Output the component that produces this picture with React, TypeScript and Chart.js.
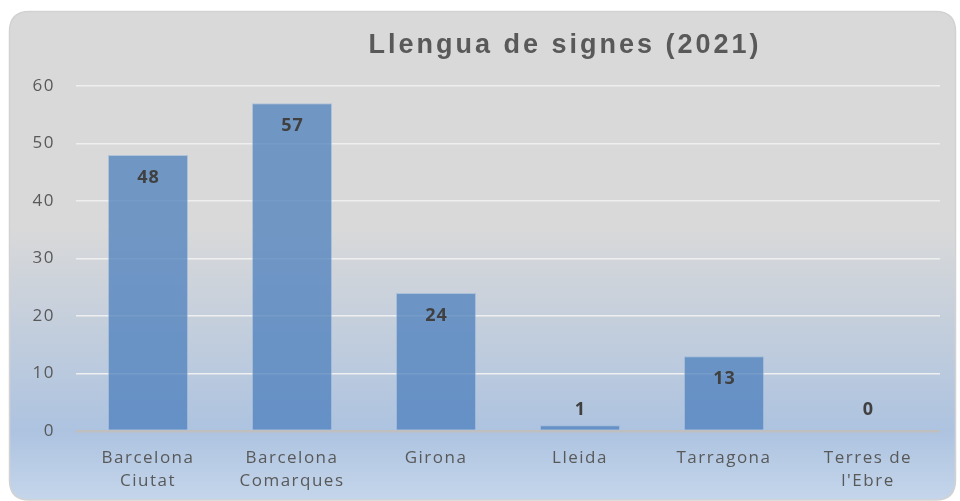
import React, { useEffect, useRef } from "react";
import { Chart, registerables } from "chart.js";

Chart.register(...registerables);

const TITLE = "Llengua de signes (2021)";
const categories: (string | string[])[] = [
  ["Barcelona", "Ciutat"],
  ["Barcelona", "Comarques"],
  "Girona",
  "Lleida",
  "Tarragona",
  ["Terres de", "l'Ebre"],
];
const values = [48, 57, 24, 1, 13, 0];
const yTicks = [0, 10, 20, 30, 40, 50, 60];

const W = 960;
const H = 501;

const backgroundPlugin = {
  id: "cardBg",
  beforeDraw(chart: any) {
    const ctx = chart.ctx as CanvasRenderingContext2D;
    ctx.save();
    ctx.fillStyle = "#ffffff";
    ctx.fillRect(0, 0, W, H);
    const x0 = 9.5, y0 = 11.5, x1 = 955.5, y1 = 500, r = 20;
    ctx.beginPath();
    ctx.moveTo(x0 + r, y0);
    ctx.lineTo(x1 - r, y0);
    ctx.quadraticCurveTo(x1, y0, x1, y0 + r);
    ctx.lineTo(x1, y1 - r);
    ctx.quadraticCurveTo(x1, y1, x1 - r, y1);
    ctx.lineTo(x0 + r, y1);
    ctx.quadraticCurveTo(x0, y1, x0, y1 - r);
    ctx.lineTo(x0, y0 + r);
    ctx.quadraticCurveTo(x0, y0, x0 + r, y0);
    ctx.closePath();
    const g = ctx.createLinearGradient(0, y0, 0, y1);
    g.addColorStop(0, "#d9d9d9");
    g.addColorStop(0.44, "#d9d9d9");
    g.addColorStop(0.86, "#adc3e0");
    g.addColorStop(1, "#c5d6eb");
    ctx.fillStyle = g;
    ctx.fill();
    ctx.strokeStyle = "#d2d2d2";
    ctx.lineWidth = 1.5;
    ctx.stroke();

    // title
    ctx.font = "bold 27px 'Liberation Sans', Arial, sans-serif";
    (ctx as any).letterSpacing = "3px";
    ctx.fillStyle = "#595959";
    ctx.textAlign = "center";
    ctx.textBaseline = "middle";
    ctx.fillText(TITLE, 565, 46);
    ctx.restore();
    (ctx as any).letterSpacing = "1.5px";
  },
};

const labelPlugin = {
  id: "valueLabels",
  afterDatasetsDraw(chart: any) {
    const ctx = chart.ctx as CanvasRenderingContext2D;
    const meta = chart.getDatasetMeta(0);
    const base = chart.scales.y.getPixelForValue(0);
    ctx.save();
    (ctx as any).letterSpacing = "1px";
    ctx.font = "bold 18px 'Open Sans', sans-serif";
    ctx.fillStyle = "#404040";
    ctx.textAlign = "center";
    ctx.textBaseline = "middle";
    meta.data.forEach((el: any, i: number) => {
      const y = Math.min(el.y + 23, base - 21);
      ctx.fillText(String(values[i]), el.x + 0.5, y);
    });
    ctx.restore();
  },
};

export default function App() {
  const ref = useRef<HTMLCanvasElement | null>(null);
  useEffect(() => {
    if (!ref.current) return;
    const chart = new Chart(ref.current, {
      type: "bar",
      data: {
        labels: categories,
        datasets: [
          {
            data: values,
            backgroundColor: "rgba(79,129,189,0.76)",
            borderColor: "rgba(150,180,215,0.6)",
            borderWidth: 1,
            categoryPercentage: 1,
            barPercentage: 0.556,
          },
        ],
      },
      options: {
        responsive: false,
        animation: false,
        devicePixelRatio: 1,
        layout: { padding: { left: 0, right: 20, top: 86, bottom: 0 } },
        plugins: {
          legend: { display: false },
          title: { display: false },
          tooltip: { enabled: false },
        },
        scales: {
          x: {
            grid: { display: false },
            border: { display: false },
            ticks: {
              color: "#595959",
              font: { family: "'Open Sans', sans-serif", size: 17, lineHeight: 1.35 },
              padding: 8,
              maxRotation: 0,
              autoSkip: false,
            },
            afterFit: (s: any) => {
              s.height = 70;
            },
          },
          y: {
            min: 0,
            max: 60,
            afterBuildTicks: (s: any) => {
              s.ticks = yTicks.map((v) => ({ value: v }));
            },
            grid: {
              drawTicks: false,
              color: (c: any) => (c.tick && c.tick.value === 0 ? "#bfbfbf" : "#efefef"),
              lineWidth: (c: any) => (c.tick && c.tick.value === 0 ? 2.5 : 1.5),
            },
            border: { display: false },
            ticks: {
              color: "#595959",
              font: { family: "'Open Sans', sans-serif", size: 17 },
              padding: 21,
            },
            afterFit: (s: any) => {
              s.width = 76;
            },
          },
        },
      },
      plugins: [backgroundPlugin, labelPlugin],
    });
    return () => chart.destroy();
  }, []);
  return (
    <div style={{ position: "absolute", left: 0, top: 0, width: W, height: H }}>
      <canvas ref={ref} width={W} height={H} style={{ width: W, height: H, display: "block" }} />
    </div>
  );
}
